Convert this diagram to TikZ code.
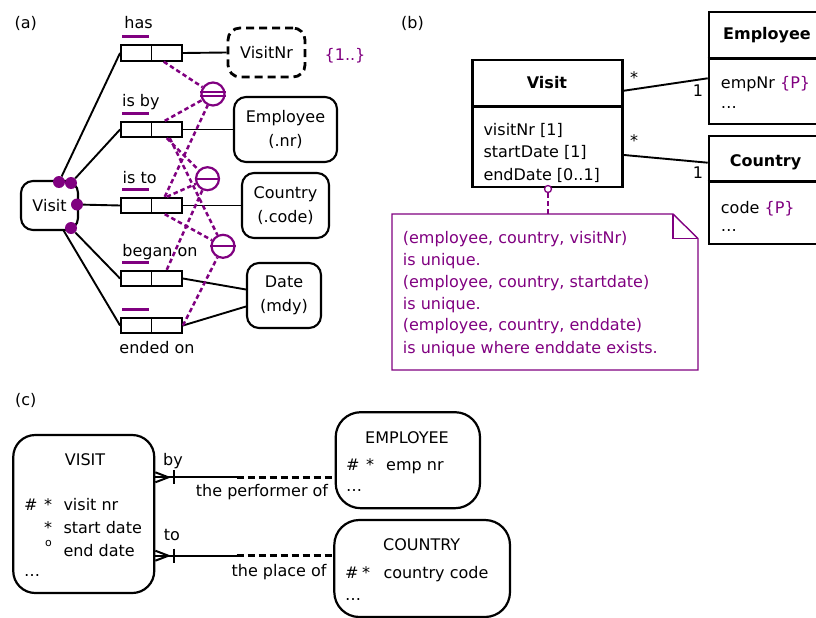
\documentclass[tikz,border=0pt]{standalone}
\usepackage{fontspec}
\setmainfont{DejaVu Sans}
\usetikzlibrary{calc}
\definecolor{pur}{RGB}{128,0,128}
\begin{document}
\begin{tikzpicture}[x=1pt,y=-1pt,
  every node/.style={font=\fontsize{16}{19}\selectfont},
  lbl/.style={inner sep=0pt, text height=12pt, text depth=0pt},
  rbox/.style={draw, line width=2.1pt, rounded corners=12pt, inner sep=0pt, align=center, font=\fontsize{16}{23.5}\selectfont},
  cell/.style={draw, line width=1.9pt, minimum width=30.5pt, minimum height=15.5pt, inner sep=0pt},
  conn/.style={line width=1.9pt},
  ubar/.style={pur, line width=2.6pt},
  udash/.style={pur, line width=2.5pt, dash pattern=on 4.5pt off 3pt},
  ucirc/.style={circle, draw=pur, line width=2.2pt, minimum size=23pt, inner sep=0pt},
  ubarin/.style={pur, line width=1.7pt},
  dotn/.style={circle, fill=pur, minimum size=12pt, inner sep=0pt},
  umlbox/.style={draw, line width=2.6pt, inner sep=0pt},
  notel/.style={pur, line width=1.4pt},
  ebox/.style={draw, line width=2.2pt, inner sep=0pt},
  rel/.style={line width=2pt},
  reld/.style={line width=2.6pt, dash pattern=on 7pt off 4pt},
  bold/.style={font=\fontsize{16}{19}\selectfont\bfseries},
]
\useasboundingbox (0,0) rectangle (816,618);

% ---------------- (a) ----------------
\node[lbl] (la) at (25.8,23) {(a)};
\node[rbox, minimum width=57pt, minimum height=49pt] (visitA) at (49.5,205.5) {Visit};
\node[rbox, line width=2.8pt, dash pattern=on 8pt off 5pt, minimum width=77pt, minimum height=49pt] (visitnr) at (266.5,52.5) {VisitNr};
\node[rbox, minimum width=103pt, minimum height=65pt] (employeeA) at (285.5,129.5) {Employee\\(.nr)};
\node[rbox, minimum width=87pt, minimum height=65pt] (countryA) at (285.5,205.5) {Country\\(.code)};
\node[rbox, minimum width=74pt, minimum height=65pt] (dateA) at (284,295.5) {Date\\(mdy)};
\node[lbl, text=pur] (vnc) at (345,54) {\{1..\}};

\foreach \n/\y in {has/53, isby/129.5, isto/205.5, began/278.5, ended/325.5} {
  \node[cell] (\n-l) at (136.25,\y) {};
  \node[cell] (\n-r) at (166.75,\y) {};
  \draw[ubar] ($(\n-l.north west)+(2,-7.5)$) -- ($(\n-l.north east)+(-3,-7.5)$);
}
\node[lbl] (thas) at (138.5,22.3) {has};
\node[lbl] (tisby) at (140.8,100) {is by};
\node[lbl] (tisto) at (139.7,177.3) {is to};
\node[lbl] (tbegan) at (160,250.7) {began on};
\node[lbl] (tended) at (157,347.3) {ended on};

\node[dotn] (d1) at (59,182) {};
\node[dotn] (d2) at (71,183) {};
\node[dotn] (d3) at (77,204.5) {};
\node[dotn] (d4) at (71,228) {};
\coordinate (vb) at (63,229.5);

\draw[conn] (d1) -- (has-l.west);
\draw[conn] (d2) -- (isby-l.west);
\draw[conn] (d3) -- (isto-l.west);
\draw[conn] (d4) -- (began-l.west);
\draw[conn] (vb) -- (ended-l.west);

\draw[conn] (has-r.east) -- (visitnr.west);
\draw[conn] (isby-r.east) -- (employeeA.west);
\draw[conn] (isto-r.east) -- (countryA.west);
\draw[conn] (began-r.east) -- ([yshift=6pt]dateA.west);
\draw[conn] (ended-r.east) -- ([yshift=-11pt]dateA.west);

\node[ucirc] (c1) at (213,94) {};
\node[ucirc] (c2) at (207.5,178.7) {};
\node[ucirc] (c3) at (223,246.3) {};
\draw[ubarin] ([yshift=1.8pt]c1.west) -- ([yshift=1.8pt]c1.east);
\draw[ubarin] ([yshift=-1.8pt]c1.west) -- ([yshift=-1.8pt]c1.east);
\draw[ubarin] (c2.west) -- (c2.east);
\draw[ubarin] (c3.west) -- (c3.east);

\draw[udash] ($(has-r.south)+(-3,0)$) -- (c1);
\draw[udash] ($(isby-r.north)+(-2,0)$) -- (c1);
\draw[udash] ($(isto-r.north)+(-2,0)$) -- (c1);
\draw[udash] (isby-r.south) -- (c2);
\draw[udash] (isto-r.north) -- (c2);
\draw[udash] (began-r.north) -- (c2);
\draw[udash] ($(isby-r.south)+(3,0)$) -- (c3);
\draw[udash] ($(isto-r.south)+(-2,0)$) -- (c3);
\draw[udash] (ended-r.east) -- (c3);

% ---------------- (b) ----------------
\node[lbl] (lb) at (412.5,23) {(b)};
\node[umlbox, minimum width=150.5pt, minimum height=127pt] (visitB) at (547.5,123.5) {};
\draw[line width=2.6pt] ($(visitB.north west)+(0,48)$) -- ($(visitB.north east)+(0,48)$);
\node[lbl, bold] (visitBt) at (547,82.3) {Visit};
\node[lbl, anchor=west] (va1) at (483.3,129) {visitNr [1]};
\node[lbl, anchor=west] (va2) at (483.3,151.5) {startDate [1]};
\node[lbl, anchor=west] (va3) at (483.3,174) {endDate [0..1]};

\node[umlbox, minimum width=114pt, minimum height=112pt] (empB) at (766,68) {};
\draw[line width=2.6pt] ($(empB.north west)+(0,48)$) -- ($(empB.north east)+(0,48)$);
\node[lbl, bold] (empBt) at (767,34) {Employee};
\node[lbl, anchor=west] (ea1) at (720.7,82.3) {empNr \textcolor{pur}{\{P\}}};
\node[lbl, anchor=west] (ea2) at (720.7,102.3) {…};

\node[umlbox, minimum width=114pt, minimum height=108pt] (couB) at (766,190) {};
\draw[line width=2.6pt] ($(couB.north west)+(0,47)$) -- ($(couB.north east)+(0,47)$);
\node[lbl, bold] (couBt) at (765.5,160.7) {Country};
\node[lbl, anchor=west] (ca1) at (720.7,207.3) {code \textcolor{pur}{\{P\}}};
\node[lbl, anchor=west] (ca2) at (720.7,225.7) {…};

\draw[conn] ([yshift=32.8pt]visitB.east) -- ([yshift=-10.3pt]empB.west);
\draw[conn] ([yshift=-31.5pt]visitB.east) -- ([yshift=27.3pt]couB.west);
\node[lbl] (m1) at (634,78) {*};
\node[lbl] (m2) at (698,90) {1};
\node[lbl] (m3) at (634,140) {*};
\node[lbl] (m4) at (698,172.5) {1};

\node[circle, draw=pur, fill=white, line width=1.3pt, minimum size=7pt, inner sep=0pt] (anc) at (548,189) {};
\coordinate (noteTop) at (548,214);
\draw[pur, line width=2pt, dash pattern=on 5pt off 3pt] (anc) -- (noteTop);
\draw[notel] (392,214) -- (673,214) -- (698,238.5) -- (698,370) -- (392,370) -- cycle;
\draw[notel] (673,214) -- (673,238.5) -- (698,238.5);
\node[lbl, anchor=west, text=pur] (n1) at (402.7,237.3) {(employee, country, visitNr)};
\node[lbl, anchor=west, text=pur] (n2) at (402.7,259) {is unique.};
\node[lbl, anchor=west, text=pur] (n3) at (402.7,281.3) {(employee, country, startdate)};
\node[lbl, anchor=west, text=pur] (n4) at (402.7,303) {is unique.};
\node[lbl, anchor=west, text=pur] (n5) at (402.7,324.7) {(employee, country, enddate)};
\node[lbl, anchor=west, text=pur] (n6) at (402.7,347.3) {is unique where enddate exists.};

% ---------------- (c) ----------------
\node[lbl] (lc) at (25.7,399) {(c)};
\node[ebox, rounded corners=22pt, minimum width=141pt, minimum height=158pt] (visitC) at (83.75,514) {};
\node[lbl] (visitCt) at (85,459.7) {VISIT};
\node[lbl, anchor=west] (vc1) at (24,504.7) {\#};
\node[lbl, anchor=west] (vc2) at (44,504.7) {*};
\node[lbl, anchor=west] (vc3) at (63.3,504.7) {visit nr};
\node[lbl, anchor=west] (vc4) at (44,527.3) {*};
\node[lbl, anchor=west] (vc5) at (63.3,527.3) {start date};
\node[inner sep=0pt, anchor=base west, font=\fontsize{11}{11}\selectfont] (vc6) at (45,546) {o};
\node[lbl, anchor=west] (vc7) at (63.3,550) {end date};
\node[lbl, anchor=west] (vc8) at (24,570.7) {…};

\node[ebox, rounded corners=25pt, minimum width=144.3pt, minimum height=96pt] (empC) at (407.85,460.2) {};
\node[lbl] (empCt) at (407,437.3) {EMPLOYEE};
\node[lbl, anchor=west] (ec1) at (346,464) {\#};
\node[lbl, anchor=west] (ec2) at (366,464) {*};
\node[lbl, anchor=west] (ec3) at (386,464) {emp nr};
\node[lbl, anchor=west] (ec4) at (346,485.7) {…};

\node[ebox, rounded corners=25pt, minimum width=175.7pt, minimum height=97pt] (couC) at (422.15,568.5) {};
\node[lbl] (couCt) at (421.7,544) {COUNTRY};
\node[lbl, anchor=west] (cc1) at (345,572.3) {\#};
\node[lbl, anchor=west] (cc2) at (362,572.3) {*};
\node[lbl, anchor=west] (cc3) at (383.3,572.3) {country code};
\node[lbl, anchor=west] (cc4) at (345,594) {…};

\coordinate (byM) at (236.7,477.3);
\coordinate (toM) at (236.7,555.7);
\draw[rel] (visitC.east |- byM) -- (byM);
\draw[reld] (byM) -- (empC.west |- byM);
\draw[rel] ($(visitC.east |- byM)+(0,-5)$) -- ($(visitC.east |- byM)+(13,0)$) -- ($(visitC.east |- byM)+(0,5)$);
\draw[rel] ($(visitC.east |- byM)+(18.5,-7)$) -- ($(visitC.east |- byM)+(18.5,7)$);
\draw[rel] (visitC.east |- toM) -- (toM);
\draw[reld] (toM) -- (couC.west |- toM);
\draw[rel] ($(visitC.east |- toM)+(0,-5)$) -- ($(visitC.east |- toM)+(13,0)$) -- ($(visitC.east |- toM)+(0,5)$);
\draw[rel] ($(visitC.east |- toM)+(18.5,-7)$) -- ($(visitC.east |- toM)+(18.5,7)$);
\node[lbl] (tby) at (173,459) {by};
\node[lbl, anchor=east] (tperf) at (328.3,490.7) {the performer of};
\node[lbl] (tto) at (172,534) {to};
\node[lbl, anchor=east] (tplace) at (326.7,570.7) {the place of};
\end{tikzpicture}
\end{document}
